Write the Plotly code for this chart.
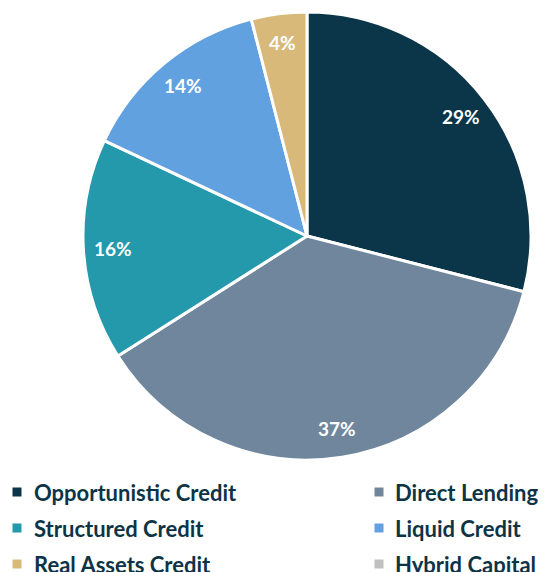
import math
import plotly.graph_objects as go

categories = ["Opportunistic Credit", "Direct Lending", "Structured Credit",
              "Liquid Credit", "Real Assets Credit", "Hybrid Capital"]
values = [29, 37, 16, 14, 4, 0]
colors = ["#0b3649", "#6f869c", "#2399ab", "#62a1df", "#d8b97a", "#c0c0c0"]

W, H = 544, 572
CX, CY, R = 307, 236, 224
pie_cats = [c for c, v in zip(categories, values) if v > 0]
pie_vals = [v for v in values if v > 0]
pie_cols = [col for col, v in zip(colors, values) if v > 0]

fig = go.Figure(go.Pie(
    labels=pie_cats, values=pie_vals, sort=False, direction="clockwise",
    marker=dict(colors=pie_cols, line=dict(color="white", width=3)),
    textinfo="none", showlegend=False, hoverinfo="label+percent",
    domain=dict(x=[(CX - R) / W, (CX + R) / W],
                y=[(H - CY - R) / H, (H - CY + R) / H]),
))

annots, shapes = [], []
# percentage labels placed near the outer part of each slice
total = sum(pie_vals)
cum = 0
for v in pie_vals:
    mid = 2 * math.pi * (cum + v / 2) / total
    cum += v
    r = 0.87 * R
    px = CX + r * math.sin(mid)
    py = CY - r * math.cos(mid)
    annots.append(dict(text=f"{v}%", xref="paper", yref="paper",
                       x=px / W, y=1 - py / H, xanchor="center", yanchor="middle",
                       showarrow=False,
                       font=dict(family="Lato", size=19, color="white", weight=700)))

# legend (2 columns x 3 rows)
col_sq = [17, 379]
col_tx = [32, 393]
row_y = [492, 528, 564]
for i, (c, col) in enumerate(zip(categories, colors)):
    cx = col_sq[i % 2]
    cy = row_y[i // 2]
    shapes.append(dict(type="rect", xref="paper", yref="paper",
                       x0=(cx - 4.5) / W, x1=(cx + 4.5) / W,
                       y0=1 - (cy + 4.5) / H, y1=1 - (cy - 4.5) / H,
                       fillcolor=col, line=dict(width=0)))
    annots.append(dict(text=c, xref="paper", yref="paper",
                       x=col_tx[i % 2] / W, y=1 - cy / H,
                       xanchor="left", yanchor="middle", showarrow=False,
                       font=dict(family="Lato", size=22, color="#0d3446", weight=700)))

fig.update_layout(width=W, height=H, margin=dict(l=0, r=0, t=0, b=0),
                  paper_bgcolor="white", plot_bgcolor="white",
                  shapes=shapes, annotations=annots)
fig.write_html("out.html")
